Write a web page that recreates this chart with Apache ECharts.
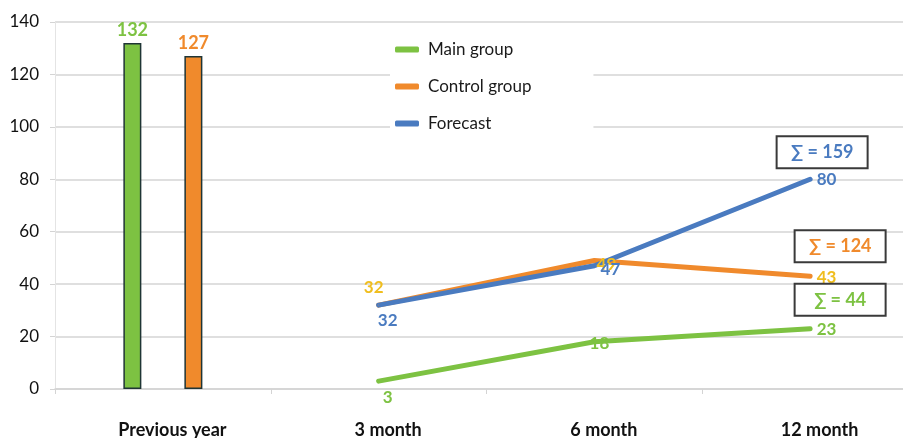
<!DOCTYPE html>
<html>
<head>
<meta charset="utf-8">
<script src="https://cdn.jsdelivr.net/npm/echarts@6/dist/echarts.min.js"></script>
<style>
  html, body { margin: 0; padding: 0; background: #fff; }
  #chart { width: 903px; height: 438px; }
</style>
</head>
<body>
<div id="chart"></div>
<script>
// Categories along the x axis
var categories = ['Previous year', '3 month', '6 month', '12 month'];

// Previous-year totals (bars)
var prevMain = 132;
var prevControl = 127;

// Follow-up values per period (lines); first slot is the previous-year column
var mainGroup = [null, 3, 18, 23];
var controlGroup = [null, 32, 49, 43];
var forecast = [null, 32, 47, 80];

// Y axis ticks
var yMin = 0, yMax = 140, yStep = 20;

var GREEN = '#7DC242';
var ORANGE = '#F08A2C';
var BLUE = '#4A7BC0';
var GOLD = '#F0BE1E';
var FONT = 'Lato, "Open Sans", sans-serif';

// Per-point label placement for each line: [position, offsetX, offsetY]
var mainLabelPos = [null, ['bottom', 9, 1], ['inside', 5, 2], ['right', 0, 1]];
var controlLabelPos = [null, ['top', -5, -3], ['inside', 12, 4], ['right', 0, 1]];
var forecastLabelPos = [null, ['bottom', 9, 0], ['inside', 16, 4], ['right', 0, 0]];

function sum(arr) {
  return arr.reduce(function (a, v) { return a + (v == null ? 0 : v); }, 0);
}

function lineData(values, placement) {
  return values.map(function (v, i) {
    if (v == null) return { value: null };
    var p = placement[i];
    return { value: v, label: { position: p[0], offset: [p[1], p[2]] } };
  });
}

// Boxed running total placed above the last point of a line
function sumMark(values, color, offset) {
  var last = values.length - 1;
  return {
    symbol: 'circle',
    symbolSize: 1,
    itemStyle: { color: 'rgba(0,0,0,0)' },
    silent: true,
    data: [{ coord: [categories[last], values[last]] }],
    label: {
      show: true,
      position: 'inside',
      offset: offset,
      formatter: function () { return '\u2211 = ' + sum(values); },
      color: color,
      fontFamily: FONT,
      fontWeight: 'bold',
      fontSize: 18,
      width: 65,
      align: 'center',
      backgroundColor: '#fff',
      borderColor: '#3a3a3a',
      borderWidth: 2,
      padding: [6, 12, 6, 12]
    }
  };
}

function lineSeries(name, values, color, labelColor, placement, markOffset) {
  return {
    name: name,
    type: 'line',
    data: lineData(values, placement),
    symbol: 'circle',
    symbolSize: 1,
    showSymbol: true,
    connectNulls: false,
    lineStyle: { color: color, width: 5, cap: 'round' },
    itemStyle: { color: color },
    label: {
      show: true,
      color: labelColor,
      fontFamily: FONT,
      fontWeight: 'bold',
      fontSize: 17,
      distance: 6
    },
    markPoint: sumMark(values, color, markOffset),
    z: 3
  };
}

var chart = echarts.init(document.getElementById('chart'), null, { renderer: 'canvas' });

chart.setOption({
  animation: false,
  backgroundColor: '#fff',
  textStyle: { fontFamily: FONT },
  // plot area runs slightly past the right edge of the canvas
  grid: {
    left: 55, top: 22, width: 863, height: 367,
    containLabel: false,
    outerBoundsMode: 'none'
  },
  legend: {
    orient: 'vertical',
    left: 390,
    top: 37,
    padding: [4, 62, 6, 5],
    backgroundColor: '#fff',
    itemWidth: 24,
    itemHeight: 6,
    itemGap: 20,
    icon: 'roundRect',
    data: ['Main group', 'Control group', 'Forecast'],
    textStyle: { fontFamily: FONT, fontSize: 17, color: '#1a1a1a', padding: [0, 0, 0, 4] }
  },
  xAxis: {
    type: 'category',
    data: categories,
    boundaryGap: true,
    axisLine: { show: true, lineStyle: { color: '#d4d4d4', width: 1.5 } },
    axisTick: { show: true, length: 5, lineStyle: { color: '#d4d4d4' } },
    axisLabel: {
      color: '#111',
      fontFamily: FONT,
      fontWeight: 'bold',
      fontSize: 18,
      margin: 32,
      padding: [0, 0, 0, 19]
    },
    splitLine: { show: false }
  },
  yAxis: {
    type: 'value',
    min: yMin,
    max: yMax,
    interval: yStep,
    axisLine: { show: true, lineStyle: { color: '#e4e4e4' } },
    axisTick: { show: true, length: 5, lineStyle: { color: '#d4d4d4' } },
    axisLabel: { color: '#111', fontFamily: FONT, fontSize: 17, margin: 16 },
    splitLine: { show: true, lineStyle: { color: '#d4d4d4', width: 1.5 } }
  },
  series: [
    {
      name: 'Main group (previous year)',
      type: 'bar',
      data: [prevMain, null, null, null],
      barWidth: 18,
      barGap: '239%',
      itemStyle: { color: GREEN, borderColor: '#1f3535', borderWidth: 1.5 },
      label: {
        show: true, position: 'top', distance: 4,
        color: GREEN, fontFamily: FONT, fontWeight: 'bold', fontSize: 18
      },
      z: 2
    },
    {
      name: 'Control group (previous year)',
      type: 'bar',
      data: [prevControl, null, null, null],
      barWidth: 18,
      itemStyle: { color: ORANGE, borderColor: '#1f3535', borderWidth: 1.5 },
      label: {
        show: true, position: 'top', distance: 4,
        color: ORANGE, fontFamily: FONT, fontWeight: 'bold', fontSize: 18
      },
      z: 2
    },
    lineSeries('Main group', mainGroup, GREEN, GREEN, mainLabelPos, [30, -29]),
    lineSeries('Control group', controlGroup, ORANGE, GOLD, controlLabelPos, [30, -30]),
    lineSeries('Forecast', forecast, BLUE, BLUE, forecastLabelPos, [12, -27])
  ]
});
</script>
</body>
</html>
